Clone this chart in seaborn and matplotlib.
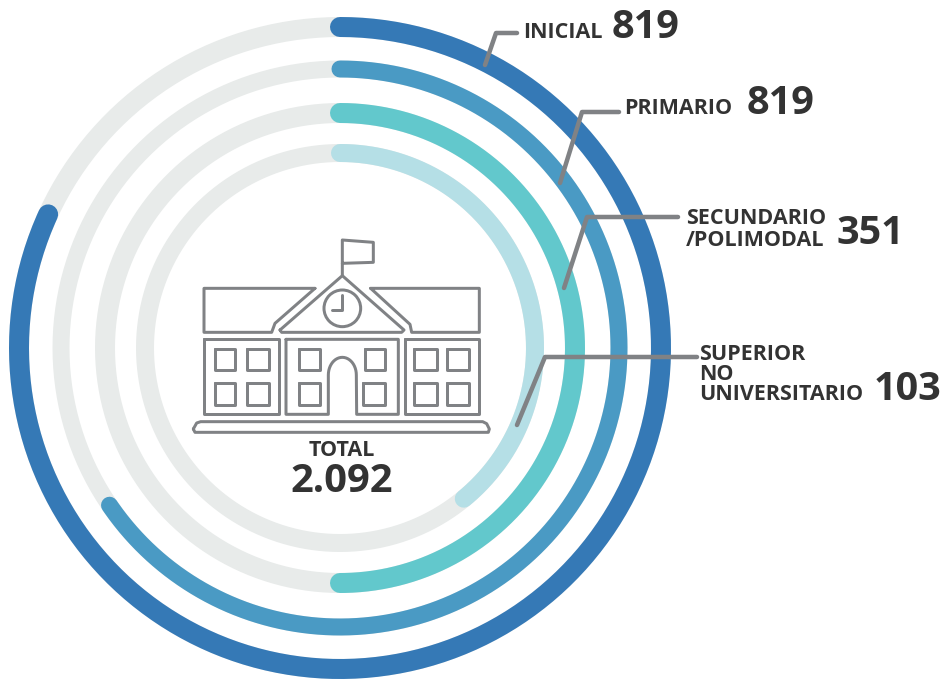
import numpy as np
import pandas as pd
import matplotlib
matplotlib.use("Agg")
import matplotlib.pyplot as plt
from matplotlib.patches import Circle
import seaborn as sns

# ---- data -------------------------------------------------------------
levels = ["INICIAL", "PRIMARIO", "SECUNDARIO", "SUPERIOR"]
values = [819, 819, 351, 103]
arc_sweep_deg = [294.6, 235.7, 180.0, 140.6]
ring_radius = [321, 279, 235, 195]
ring_width_px = [20, 17, 20, 18]
ring_colors = ["#3579B6", "#4A9AC4", "#62C8CC", "#B5DFE6"]
track_color = "#E8EBEA"
ink = "#333333"
leader = "#808285"
total_label = "TOTAL"
total_value = "2.092"

W, H = 944, 680
CX, CY, RMAX = 340, 348, 336
px = 72 / 100

sns.set_theme(style="white")
plt.rcParams["font.family"] = ["Open Sans", "DejaVu Sans"]
fig = plt.figure(figsize=(W / 100, H / 100), dpi=100, facecolor="white")

pol = fig.add_axes([(CX - RMAX) / W, 1 - (CY + RMAX) / H, 2 * RMAX / W, 2 * RMAX / H],
                   projection="polar")
pol.set_theta_zero_location("N")
pol.set_theta_direction(-1)
pol.set_axis_off()

for lvl, sw, r, w, c in zip(levels, arc_sweep_deg, ring_radius, ring_width_px, ring_colors):
    track = pd.DataFrame({"t": np.radians(np.linspace(0, 360, 361)), "r": r})
    sns.lineplot(data=track, x="t", y="r", sort=False, estimator=None, color=track_color,
                 lw=w * px, ax=pol, solid_capstyle="butt", clip_on=False)
    arc = pd.DataFrame({"t": np.radians(np.linspace(0, sw, 300)), "r": r})
    sns.lineplot(data=arc, x="t", y="r", sort=False, estimator=None, color=c,
                 lw=w * px, ax=pol, solid_capstyle="round", clip_on=False)
pol.set_ylim(0, RMAX)
pol.set_xlabel("")
pol.set_ylabel("")

# overlay in pixel coordinates
ov = fig.add_axes([0, 0, 1, 1], facecolor="none")
ov.set_xlim(0, W)
ov.set_ylim(H, 0)
ov.set_axis_off()

def poly(pts, lw, color=leader, closed=False):
    xs, ys = zip(*pts)
    if closed:
        xs, ys = xs + xs[:1], ys + ys[:1]
    ov.plot(xs, ys, color=color, lw=lw * px, solid_capstyle="round", solid_joinstyle="round")

# leader lines
poly([(485, 65), (496, 33), (517, 33)], 4.5)
poly([(560, 183), (582, 112), (619, 112)], 4.5)
poly([(564, 288), (587, 217), (678, 217)], 4.5)
poly([(517, 425), (545, 357), (697, 357)], 4.5)

# school icon (zoom coordinates -> pixels)
def Z(pts):
    return [(180 + x / 3, 225 + y / 3) for x, y in pts]

def rect(x0, y0, x1, y1):
    poly(Z([(x0, y0), (x1, y0), (x1, y1), (x0, y1)]), 3, closed=True)

poly(Z([(487, 150), (487, 45), (580, 52), (580, 112), (487, 115)]), 3)
poly(Z([(300, 315), (487, 152), (672, 315), (665, 322), (305, 322)]), 3, closed=True)
poly(Z([(405, 190), (72, 190), (72, 322), (275, 322), (285, 295), (405, 190)]), 3)
poly(Z([(572, 190), (898, 190), (898, 322), (695, 322), (690, 298), (572, 190)]), 3)
poly(Z([(487, 210), (487, 255), (455, 255)]), 3)
cx, cy = 180 + 487 / 3, 225 + 250 / 3
ov.add_patch(Circle((cx, cy), 55 / 3, fill=False, ec=leader, lw=3 * px))
rect(72, 343, 298, 568)
rect(675, 343, 898, 568)
a = np.radians(np.linspace(180, 0, 25))
arch = [(487 + 42 * np.cos(t), 450 - 53 * np.sin(t)) for t in a]
poly(Z([(318, 343), (655, 343), (655, 568), (530, 568)] + arch[::-1] + [(445, 568), (318, 568)]), 3, closed=True)
for x0, y0, x1, y1 in [(105, 373, 165, 435), (200, 373, 268, 435), (105, 475, 165, 540), (200, 475, 268, 540),
                       (358, 373, 420, 435), (555, 373, 615, 435), (358, 475, 420, 540), (548, 475, 615, 540),
                       (703, 373, 770, 435), (800, 373, 868, 435), (703, 475, 770, 540), (800, 475, 868, 540)]:
    rect(x0, y0, x1, y1)
poly(Z([(40, 612), (50, 594), (62, 590), (908, 590), (920, 596), (928, 612), (925, 622), (45, 622)]), 3, closed=True)

# text
def lab(x, y, s, size, ha="left", weight="bold"):
    ov.text(x, y, s, fontsize=size, color=ink, ha=ha, va="center", weight=weight)

SM, BIG = 15.5, 28.5
lab(523, 32, levels[0], SM)
lab(612, 27, str(values[0]), BIG)
lab(624, 108, levels[1], SM)
lab(747, 104, str(values[1]), BIG)
lab(686, 218, levels[2], SM)
lab(686, 240, "/POLIMODAL", SM)
lab(837, 233, str(values[2]), BIG)
lab(699, 354, levels[3], SM)
lab(699, 374, "NO", SM)
lab(699, 394, "UNIVERSITARIO", SM)
lab(874, 390, str(values[3]), BIG)
lab(342, 451, total_label, 15.5, ha="center")
lab(342, 482, total_value, 28.7, ha="center")

fig.savefig("out.png", dpi=100, facecolor="white")
